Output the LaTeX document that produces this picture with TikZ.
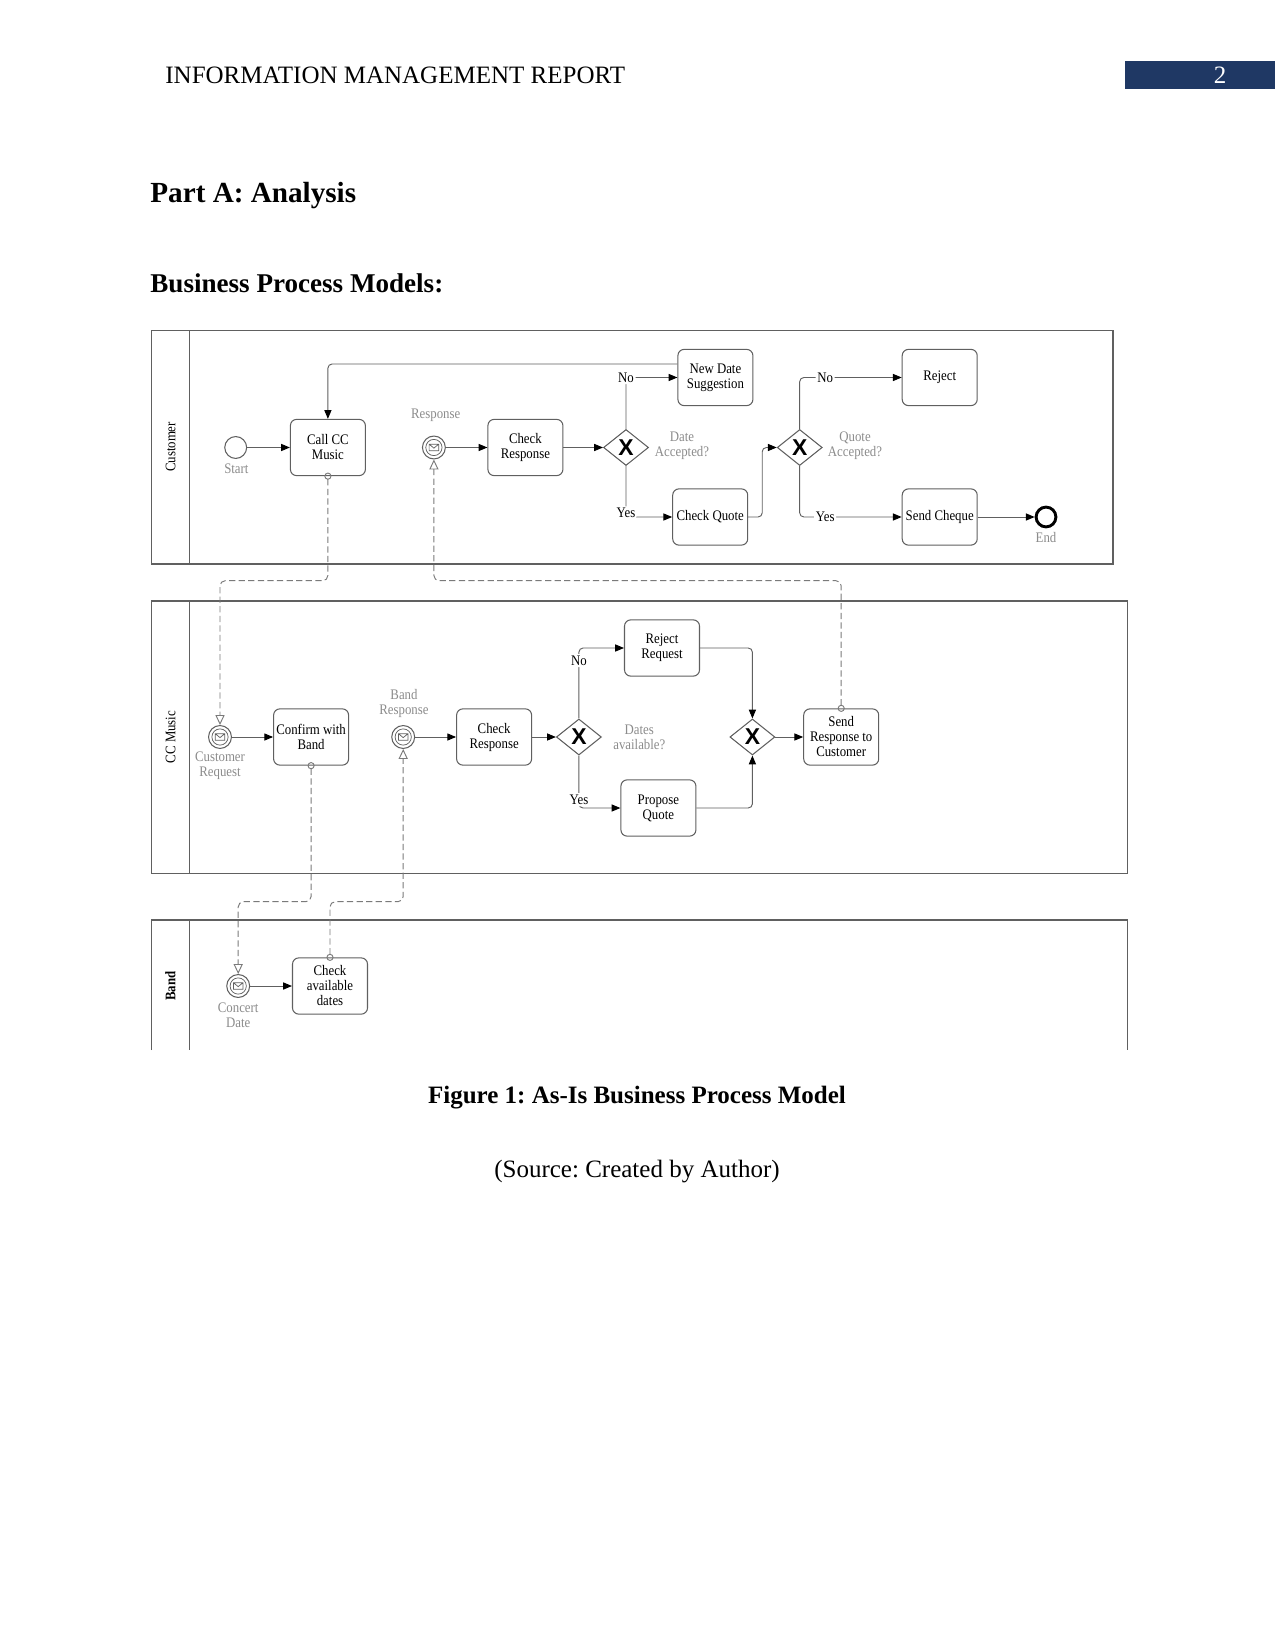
\documentclass[tikz,border=0pt]{standalone}
\usepackage{fontspec}
\setmainfont{Liberation Serif}
\newfontfamily\dfont[FakeStretch=0.88]{Liberation Serif}
\newfontfamily\xfont{Liberation Sans}
\usetikzlibrary{arrows.meta,shapes.geometric}
\definecolor{hdrblue}{HTML}{1F3864}
\definecolor{lgray}{HTML}{8C8C8C}
\definecolor{lcol}{HTML}{606060}
\definecolor{mcol}{HTML}{7A7A7A}
\frenchspacing
\newcommand\msgicon[1]{\draw[lcol, line width=0.35pt, shift={(#1.center)}] (0,0) circle[radius=3.9pt] (-2.3pt,-1.6pt) rectangle (2.3pt,1.6pt) (-2.3pt,1.6pt) -- (0pt,-0.3pt) -- (2.3pt,1.6pt);}
\begin{document}
\begin{tikzpicture}[x=0.48pt,y=-0.48pt,
  task/.style={draw=lcol, line width=0.5pt, rounded corners=3pt, minimum width=36pt, minimum height=27pt, inner sep=1pt, align=center, font=\dfont\fontsize{7}{7.2}\selectfont},
  evt/.style={circle, draw=lcol, line width=0.5pt, minimum size=10.5pt, inner sep=0pt},
  mevt/.style={circle, draw=lcol, line width=0.5pt, minimum size=11pt, inner sep=0pt},
  endevt/.style={circle, draw=black, line width=1.4pt, minimum size=9.5pt, inner sep=0pt},
  gw/.style={diamond, draw=lcol, line width=0.5pt, minimum width=21.6pt, minimum height=17.3pt, aspect=1.25, inner sep=0pt, font=\xfont\bfseries\fontsize{11}{11}\selectfont},
  glabel/.style={text=lgray, inner sep=0pt, align=center, font=\dfont\fontsize{7}{7.2}\selectfont},
  flab/.style={fill=white, inner sep=0.8pt, text=black, font=\dfont\fontsize{7}{7.2}\selectfont},
  seq/.style={draw=lcol, line width=0.45pt, rounded corners=2pt, -{Triangle[length=4.2pt,width=3.4pt,color=black]}},
  msgf/.style={draw=mcol, line width=0.45pt, dash pattern=on 3pt off 1.6pt, rounded corners=2.5pt, shorten <=-1.7pt, {Circle[open,length=3.4pt,width=3.4pt]}-{Triangle[open,length=4.8pt,width=4.4pt]}},
  pool/.style={draw=lcol, line width=0.6pt},
  plabel/.style={rotate=90, inner sep=0pt, font=\dfont\fontsize{7}{7.2}\selectfont}
]
\useasboundingbox (0,0) rectangle (1275,1650);
\fill[white] (0,0) rectangle (1275,1650);

% header
\node[anchor=west, inner sep=0pt, font=\fontsize{12}{14}\selectfont] (hdr) at (165,75) {INFORMATION MANAGEMENT REPORT};
\fill[hdrblue] (1125,61) rectangle (1275,89);
\node[text=white, inner sep=0pt, font=\fontsize{12}{14}\selectfont] (pg) at (1220,75) {2};

\node[anchor=west, inner sep=0pt, font=\fontsize{14}{16}\bfseries\selectfont] (parta) at (150,195.5) {Part A: Analysis};
\node[anchor=west, inner sep=0pt, font=\fontsize{13}{15}\bfseries\selectfont] (bpm) at (150,283.5) {Business Process Models:};

\node[inner sep=0pt, font=\fontsize{12}{14}\bfseries\selectfont] (cap) at (637,1098) {Figure 1: As-Is Business Process Model};
\node[inner sep=0pt, font=\fontsize{12}{14}\selectfont] (src) at (637,1172) {(Source: Created by Author)};

% pools
\draw[pool] (151.8,330.5) rectangle (1113,564);
\draw[pool] (189.3,330.5) -- (189.3,564);
\node[plabel] (lcust) at (170.5,447) {Customer};
\draw[pool] (151.8,601) rectangle (1127.5,873.3);
\draw[pool] (189.3,601) -- (189.3,873.3);
\node[plabel] (lcc) at (170.5,737) {CC Music};
\draw[pool] (151.8,1050) -- (151.8,920) -- (1127.5,920) -- (1127.5,1050);
\draw[pool] (189.3,920) -- (189.3,1050);
\node[plabel, font=\dfont\bfseries\fontsize{7}{7.2}\selectfont] (lband) at (170.5,986) {Band};

% Customer lane
\node[evt] (start) at (235.7,447.5) {};
\node[glabel] (startl) at (236.4,468.3) {Start};
\node[task] (call) at (327.9,447.5) {Call CC\\Music};
\node[mevt] (resp) at (433.9,447.5) {};
\msgicon{resp}
\node[glabel] (respl) at (435.7,415.7) {Response};
\node[task] (chk1) at (525.4,447.5) {Check\\Response};
\node[gw] (gw1) at (626,447.5) {X};
\node[glabel] (gw1l) at (682,446) {Date\\Accepted?};
\node[task] (newdate) at (715.4,377.5) {New Date\\Suggestion};
\node[task] (cquote) at (710.2,517) {Check Quote};
\node[gw] (gw2) at (799.7,447.5) {X};
\node[glabel] (gw2l) at (855,446) {Quote\\Accepted?};
\node[task] (reject) at (939.7,377.5) {Reject};
\node[task] (cheque) at (939.7,517) {Send Cheque};
\node[endevt] (end) at (1046,517) {};
\node[glabel] (endl) at (1046,537.3) {End};

\coordinate (loopy) at (0,364);
\draw[seq] (start) -- (call);
\draw[seq] (resp) -- (chk1);
\draw[seq] (chk1) -- (gw1);
\draw[seq] (gw1.north) |- node[flab,pos=0.5]{No} (newdate.west);
\draw[seq] (gw1.south) |- node[flab,pos=0.5,yshift=2pt]{Yes} (cquote.west);
\draw[seq] (newdate.west |- loopy) -| (call.north);
\draw[seq] (cquote.east) -- ++(14,0) |- (gw2.west);
\draw[seq] (gw2.north) |- node[flab,pos=0.625]{No} (reject.west);
\draw[seq] (gw2.south) |- node[flab,pos=0.625]{Yes} (cheque.west);
\draw[seq] (cheque) -- (end);

% CC Music lane
\node[mevt] (custreq) at (220,737) {};
\msgicon{custreq}
\node[glabel] (custreql) at (220,765.5) {Customer\\Request};
\node[task] (confirm) at (311.1,737) {Confirm with\\Band};
\node[mevt] (bandresp) at (403.2,737) {};
\msgicon{bandresp}
\node[glabel] (bandrespl) at (404,703.3) {Band\\Response};
\node[task] (chk2) at (494.1,737) {Check\\Response};
\node[gw] (gw3) at (578.9,737) {X};
\node[glabel] (gw3l) at (639.3,737.5) {Dates\\available?};
\node[task] (rejreq) at (662,648) {Reject\\Request};
\node[task] (propose) at (658.4,808) {Propose\\Quote};
\node[gw] (gw4) at (752.4,737) {X};
\node[task] (sendresp) at (841.2,737) {Send\\Response to\\Customer};

\draw[seq] (custreq) -- (confirm);
\draw[seq] (bandresp) -- (chk2);
\draw[seq] (chk2) -- (gw3);
\draw[seq] (gw3.north) |- node[flab,pos=0.41]{No} (rejreq.west);
\draw[seq] (gw3.south) |- node[flab,pos=0.42]{Yes} (propose.west);
\draw[seq] (rejreq.east) -| (gw4.north);
\draw[seq] (propose.east) -| (gw4.south);
\draw[seq] (gw4) -- (sendresp);

% Band lane
\node[mevt] (concert) at (238.2,986) {};
\msgicon{concert}
\node[glabel] (concertl) at (238.2,1015) {Concert\\Date};
\node[task] (chkdates) at (330,986) {Check\\available\\dates};
\draw[seq] (concert) -- (chkdates);

% message flows
\coordinate (m1) at (220,580.7);
\coordinate (m2) at (433.9,580.7);
\coordinate (m3) at (238.2,901.7);
\coordinate (m4) at (403.2,901.7);
\draw[msgf] (call.south) |- (m1) -- (custreq.north);
\draw[msgf] (sendresp.north) |- (m2) -- (resp.south);
\draw[msgf] (confirm.south) |- (m3) -- (concert.north);
\draw[msgf] (chkdates.north) |- (m4) -- (bandresp.south);
\end{tikzpicture}
\end{document}
